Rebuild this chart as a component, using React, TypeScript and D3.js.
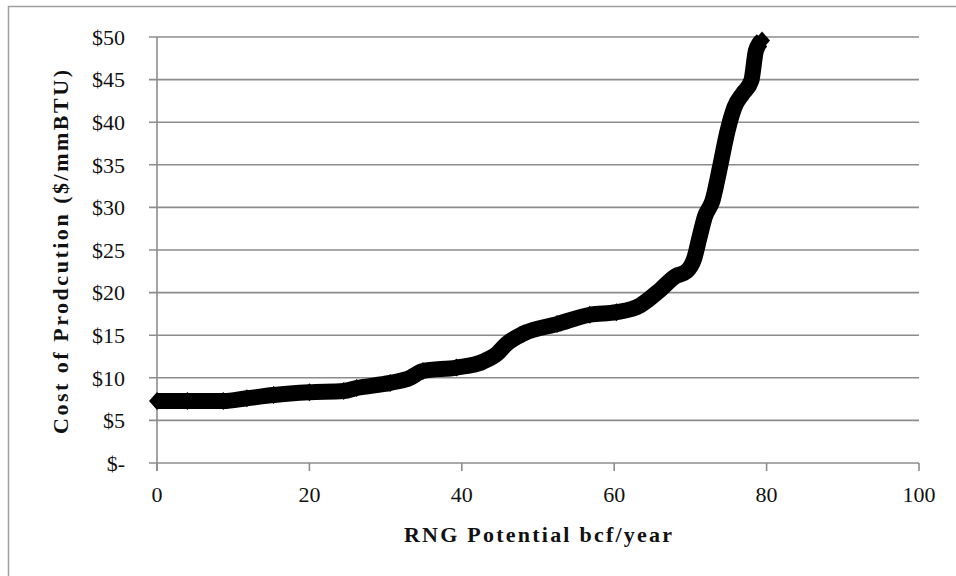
import React from 'react';
import * as d3 from 'd3';

// RNG potential (bcf/year) vs. cost of production ($/mmBTU)
const potential = [
  0, 4, 8.7, 11.8, 15.3, 20, 24.5, 26.2, 30.6, 33.2, 34.9, 39.3, 42.8, 44.6, 45.9,
  48.1, 52.5, 56.8, 60.3, 63.4, 66, 68, 69.5, 70.5, 71.2, 71.9, 72.9, 73.9, 74.8,
  75.8, 76.9, 78.0, 78.6, 79.4,
];
const cost = [
  7.27, 7.27, 7.27, 7.6, 7.98, 8.3, 8.45, 8.8, 9.4, 10.0, 10.8, 11.2, 11.9, 12.8, 14.0,
  15.2, 16.3, 17.4, 17.7, 18.5, 20.3, 21.9, 22.5, 24.0, 26.5, 28.9, 30.8, 34.8, 38.7,
  41.8, 43.4, 44.9, 48.4, 49.6,
];
const xTicks = [0, 20, 40, 60, 80, 100];
const yTicks = [0, 5, 10, 15, 20, 25, 30, 35, 40, 45, 50];

const W = 956;
const H = 576;
const grid = '#8c8c8c';
const serif = '"Liberation Serif", "Times New Roman", serif';

export default function App() {
  const x = d3.scaleLinear().domain([0, 100]).range([157, 919]);
  const y = d3.scaleLinear().domain([0, 50]).range([463, 37]);

  const pts = potential.map((p, i) => [p, cost[i]] as [number, number]);
  const line = d3
    .line<[number, number]>()
    .x(d => x(d[0]))
    .y(d => y(d[1]))
    .curve(d3.curveMonotoneX);

  const diamond = 'M0,-9L8,0L0,9L-8,0Z';
  const fmt = (v: number) => (v === 0 ? '$-' : `$${v}`);

  return (
    <div style={{ position: 'fixed', left: 0, top: 0 }}>
      <svg width={W} height={H} style={{ display: 'block', background: '#fff' }}>
        {/* chart frame */}
        <path d={`M8.5,${H}V6.5H${W}`} fill="none" stroke="#a0a0a0" strokeWidth={1.5} />

        {/* gridlines */}
        {yTicks.map(t => (
          <line key={t} x1={149} x2={919} y1={y(t)} y2={y(t)} stroke={grid} strokeWidth={1.6} />
        ))}
        {/* y axis */}
        <line x1={157} x2={157} y1={y(50)} y2={471} stroke={grid} strokeWidth={1.6} />
        {/* x ticks */}
        {xTicks.map(t => (
          <line key={t} x1={x(t)} x2={x(t)} y1={y(0)} y2={471} stroke={grid} strokeWidth={1.6} />
        ))}

        {/* y tick labels */}
        {yTicks.map(t => (
          <text
            key={t}
            x={125}
            y={y(t)}
            dy="0.35em"
            textAnchor="end"
            fontFamily={serif}
            fontSize={22}
            fill="#111"
          >
            {fmt(t)}
          </text>
        ))}
        {/* x tick labels */}
        {xTicks.map(t => (
          <text
            key={t}
            x={x(t)}
            y={494}
            dy="0.35em"
            textAnchor="middle"
            fontFamily={serif}
            fontSize={22}
            fill="#111"
          >
            {t}
          </text>
        ))}

        {/* axis titles */}
        <text
          x={538}
          y={542}
          textAnchor="middle"
          fontFamily={serif}
          fontWeight="bold"
          fontSize={22}
          textLength={268}
          lengthAdjust="spacing"
          fill="#111"
        >
          RNG Potential bcf/year
        </text>
        <text
          transform="translate(68,252) rotate(-90)"
          textAnchor="middle"
          fontFamily={serif}
          fontWeight="bold"
          fontSize={22}
          textLength={364}
          lengthAdjust="spacing"
          fill="#111"
        >
          Cost of Prodcution ($/mmBTU)
        </text>

        {/* series */}
        <path
          d={line(pts) || ''}
          fill="none"
          stroke="#000"
          strokeWidth={16}
          strokeLinejoin="round"
        />
        {pts.map((d, i) => (
          <path key={i} d={diamond} transform={`translate(${x(d[0])},${y(d[1])})`} fill="#000" />
        ))}
      </svg>
    </div>
  );
}
